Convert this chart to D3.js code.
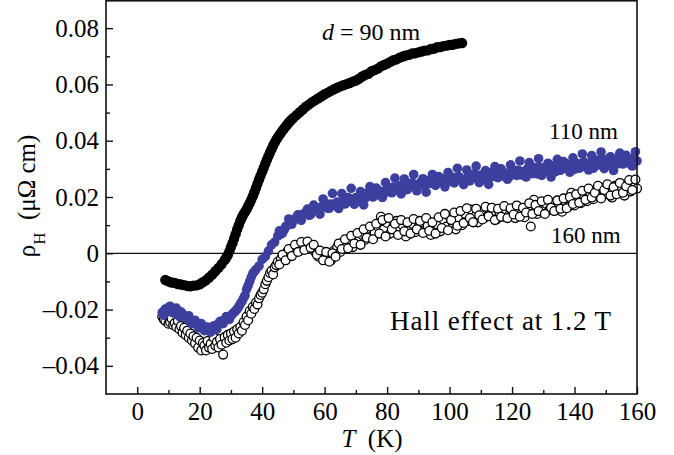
<!DOCTYPE html>
<html>
<head>
<meta charset="utf-8">
<script src="https://cdn.jsdelivr.net/npm/d3@7"></script>
<style>
  body { margin: 0; background: #fff; }
  svg text { font-family: "Liberation Serif", "Times New Roman", serif; fill: #000; }
</style>
</head>
<body>
<main></main>
<script>
// d = 90 nm, filled black
var film90 = [[9,-0.0095],[10,-0.0100],[11,-0.0104],[12,-0.0105],[13,-0.0109],[14,-0.0111],[15,-0.0113],[16,-0.0116],[17,-0.0117],[18,-0.0115],
  [19,-0.0114],[20,-0.0110],[21,-0.0103],[22,-0.0096],[23,-0.0086],[24,-0.0076],[25,-0.0064],[26,-0.0052],[27,-0.0039],[28,-0.0024],
  [29,-0.0006],[30,0.0022],[31,0.0052],[32,0.0085],[33,0.0115],[34,0.0138],[35,0.0156],[36,0.0178],[37,0.0203],[38,0.0232],
  [39,0.0262],[40,0.0290],[41,0.0318],[42,0.0345],[43,0.0370],[44,0.0393],[45,0.0412],[46,0.0428],[47,0.0443],[48,0.0457],
  [49,0.0470],[50,0.0481],[51,0.0491],[52,0.0501],[53,0.0511],[54,0.0521],[55,0.0529],[56,0.0537],[57,0.0544],[58,0.0551],
  [59,0.0558],[60,0.0565],[61,0.0571],[62,0.0577],[63,0.0583],[64,0.0588],[65,0.0593],[66,0.0597],[67,0.0601],[68,0.0605],
  [69,0.0610],[70,0.0614],[71,0.0620],[72,0.0628],[73,0.0634],[74,0.0638],[75,0.0647],[76,0.0651],[77,0.0656],[78,0.0664],
  [79,0.0669],[80,0.0674],[81,0.0680],[82,0.0686],[83,0.0689],[84,0.0695],[85,0.0699],[86,0.0703],[87,0.0705],[88,0.0710],
  [89,0.0711],[90,0.0714],[91,0.0717],[92,0.0720],[93,0.0721],[94,0.0726],[95,0.0727],[96,0.0732],[97,0.0733],[98,0.0736],
  [99,0.0738],[100,0.0740],[101,0.0741],[102,0.0744],[103,0.0746],[104,0.0747],
  [28.5,-0.0016],[29.5,0.0007],[30.5,0.0036],[31.5,0.0068],[32.5,0.0100],[33.5,0.0127],[34.5,0.0147],[35.5,0.0167],[36.5,0.0190],[37.5,0.0217],
  [38.5,0.0247],[39.5,0.0276],[40.5,0.0304],[41.5,0.0332],[42.5,0.0358],[43.5,0.0382],[44.5,0.0403],[45.5,0.0420],[46.5,0.0436],[47.5,0.0450],
  [48.5,0.0464],[49.5,0.0476]];

// 110 nm, filled blue
var film110 = [[8,-0.0210],[8.5,-0.0220],[9,-0.0198],[9.5,-0.0205],[10,-0.0192],[10.5,-0.0188],[11,-0.0205],[11.5,-0.0212],[12,-0.0200],[12.5,-0.0195],
  [13,-0.0215],[13.5,-0.0225],[14,-0.0208],[14.5,-0.0215],[15,-0.0222],[15.5,-0.0230],[16,-0.0230],[16.5,-0.0222],[17,-0.0238],[17.5,-0.0250],
  [18,-0.0245],[18.5,-0.0238],[19,-0.0252],[19.5,-0.0265],[20,-0.0262],[20.5,-0.0250],[21,-0.0258],[21.5,-0.0275],[22,-0.0270],[22.5,-0.0262],
  [23,-0.0275],[23.5,-0.0280],[24,-0.0266],[24.5,-0.0258],[25,-0.0262],[25.5,-0.0270],[26,-0.0250],[26.5,-0.0242],[27,-0.0242],[27.5,-0.0250],
  [28,-0.0238],[28.5,-0.0225],[29,-0.0228],[29.5,-0.0235],[30,-0.0222],[30.5,-0.0215],[31,-0.0210],[31.5,-0.0205],[32,-0.0198],[32.5,-0.0190],
  [33,-0.0180],[33.5,-0.0172],[34,-0.0160],[34.5,-0.0150],[35,-0.0128],[35.5,-0.0115],[36,-0.0100],[36.5,-0.0085],[37,-0.0072],[37.5,-0.0065],
  [38,-0.0058],[39,-0.0045],[40,-0.0022],[41,-0.0012],[42,0.0008],[43,0.0030],[44,0.0040],[45,0.0062],[46,0.0068],[47,0.0082],
  [48,0.0098],[49,0.0110],[50,0.0118],[51,0.0128],[52,0.0125],[53,0.0138],[54,0.0142],[55,0.0135],[56,0.0152],[57,0.0158],
  [58,0.0150],[59,0.0165],[60,0.0168],[61,0.0160],[62,0.0175],[63,0.0170],[64,0.0182],[65,0.0176],[66,0.0188],[67,0.0180],
  [68,0.0195],[69,0.0190],[70,0.0198],[71,0.0192],[72,0.0205],[73,0.0196],[74,0.0210],[75,0.0202],[76,0.0215],[77,0.0208],
  [78,0.0220],[79,0.0212],[80,0.0228],[81,0.0218],[82,0.0235],[83,0.0225],[84,0.0240],[85,0.0228],[86,0.0245],[87,0.0236],
  [88,0.0250],[89,0.0238],[90,0.0245],[91,0.0255],[92,0.0240],[93,0.0258],[94,0.0248],[95,0.0262],[96,0.0250],[97,0.0265],
  [98,0.0252],[99,0.0268],[100,0.0256],[101,0.0270],[102,0.0258],[103,0.0272],[104,0.0262],[105,0.0255],[106,0.0275],[107,0.0265],
  [108,0.0282],[109,0.0268],[110,0.0278],[111,0.0262],[112,0.0285],[113,0.0270],[114,0.0280],[115,0.0272],[116,0.0290],[117,0.0275],
  [118,0.0285],[119,0.0270],[120,0.0292],[121,0.0280],[122,0.0295],[123,0.0278],[124,0.0290],[125,0.0302],[126,0.0285],[127,0.0298],
  [128,0.0282],[129,0.0305],[130,0.0290],[131,0.0310],[132,0.0295],[133,0.0305],[134,0.0290],[135,0.0315],[136,0.0300],[137,0.0320],
  [138,0.0305],[139,0.0312],[140,0.0298],[141,0.0318],[142,0.0305],[143,0.0325],[144,0.0310],[145,0.0320],[146,0.0302],[147,0.0330],
  [148,0.0315],[149,0.0335],[150,0.0320],[151,0.0328],[152,0.0310],[153,0.0332],[154,0.0318],[155,0.0338],[156,0.0322],[157,0.0330],
  [158,0.0315],[159,0.0340],[160,0.0328],
  [45.5,0.0080],[46.5,0.0072],[47.5,0.0095],[48.5,0.0122],[49.5,0.0103],[50.5,0.0121],[51.5,0.0137],[52.5,0.0117],[53.5,0.0142],[54.5,0.0157],
  [55.5,0.0137],[56.5,0.0171],[57.5,0.0155],[58.5,0.0139],[59.5,0.0193],[60.5,0.0176],[61.5,0.0160],[62.5,0.0213],[63.5,0.0176],[64.5,0.0159],
  [65.5,0.0212],[66.5,0.0175],[67.5,0.0198],[68.5,0.0231],[69.5,0.0174],[70.5,0.0196],[71.5,0.0219],[72.5,0.0172],[73.5,0.0214],[74.5,0.0237],
  [75.5,0.0200],[76.5,0.0232],[77.5,0.0215],[78.5,0.0198],[79.5,0.0251],[80.5,0.0233],[81.5,0.0215],[82.5,0.0267],[83.5,0.0229],[84.5,0.0211],
  [85.5,0.0264],[86.5,0.0226],[87.5,0.0248],[88.5,0.0280],[89.5,0.0222],[90.5,0.0244],[91.5,0.0265],[92.5,0.0217],[93.5,0.0258],[94.5,0.0280],
  [95.5,0.0241],[96.5,0.0273],[97.5,0.0254],[98.5,0.0236],[99.5,0.0287],[100.5,0.0269],[101.5,0.0250],[102.5,0.0302],[103.5,0.0263],[104.5,0.0244],
  [105.5,0.0296],[106.5,0.0257],[107.5,0.0279],[108.5,0.0310],[109.5,0.0251],[110.5,0.0273],[111.5,0.0294],[112.5,0.0245],[113.5,0.0287],[114.5,0.0308],
  [115.5,0.0269],[116.5,0.0300],[117.5,0.0282],[118.5,0.0263],[119.5,0.0314],[120.5,0.0296],[121.5,0.0277],[122.5,0.0328],[123.5,0.0290],[124.5,0.0271],
  [125.5,0.0322],[126.5,0.0283],[127.5,0.0305],[128.5,0.0336],[129.5,0.0277],[130.5,0.0299],[131.5,0.0320],[132.5,0.0271],[133.5,0.0312],[134.5,0.0334],
  [135.5,0.0295],[136.5,0.0326],[137.5,0.0307],[138.5,0.0288],[139.5,0.0339],[140.5,0.0321],[141.5,0.0302],[142.5,0.0353],[143.5,0.0314],[144.5,0.0296],
  [145.5,0.0347],[146.5,0.0308],[147.5,0.0329],[148.5,0.0360],[149.5,0.0301],[150.5,0.0322],[151.5,0.0343],[152.5,0.0294],[153.5,0.0335],[154.5,0.0356],
  [155.5,0.0317],[156.5,0.0348],[157.5,0.0329],[158.5,0.0310],[159.5,0.0361]];

// 160 nm, open circles
var film160 = [[8,-0.0225],[8.5,-0.0235],[9,-0.0240],[9.5,-0.0222],[10,-0.0250],[10.5,-0.0245],[11,-0.0232],[11.5,-0.0255],[12,-0.0248],[12.5,-0.0262],
  [13,-0.0240],[13.5,-0.0270],[14,-0.0258],[14.5,-0.0282],[15,-0.0265],[15.5,-0.0290],[16,-0.0275],[16.5,-0.0300],[17,-0.0285],[17.5,-0.0310],
  [18,-0.0295],[18.5,-0.0320],[19,-0.0300],[19.5,-0.0335],[20,-0.0310],[20.5,-0.0345],[21,-0.0318],[21.5,-0.0328],[22,-0.0345],[22.5,-0.0312],
  [23,-0.0335],[23.5,-0.0322],[24,-0.0340],[24.5,-0.0300],[25,-0.0328],[25.5,-0.0315],[26,-0.0335],[26.5,-0.0305],[27,-0.0325],[27.5,-0.0360],
  [28,-0.0298],[28.5,-0.0318],[29,-0.0290],[29.5,-0.0310],[30,-0.0285],[30.5,-0.0305],[31,-0.0278],[31.5,-0.0300],[32,-0.0270],[32.5,-0.0285],
  [33,-0.0262],[33.5,-0.0275],[34,-0.0245],[34.5,-0.0255],[35,-0.0225],[35.5,-0.0238],[36,-0.0205],[36.5,-0.0215],[37,-0.0190],[37.5,-0.0198],
  [38,-0.0175],[38.5,-0.0182],[39,-0.0160],[39.5,-0.0148],[40,-0.0140],[40.5,-0.0128],[41,-0.0110],[41.5,-0.0098],[42,-0.0085],[42.5,-0.0070],
  [43,-0.0062],[43.5,-0.0075],[44,-0.0050],[44.5,-0.0042],[45,-0.0030],[46,-0.0020],[47,-0.0008],[48,0.0005],[49,-0.0005],[50,0.0012],
  [51,0.0022],[52,0.0008],[53,0.0025],[54,0.0035],[55,0.0030],[56,0.0018],[57,0.0005],[58,-0.0012],[59,0.0002],[60,-0.0020],
  [61,-0.0008],[62,-0.0025],[63,0.0010],[64,0.0022],[65,0.0005],[66,0.0040],[67,0.0030],[68,0.0048],[69,0.0022],[70,0.0058],
  [71,0.0045],[72,0.0065],[73,0.0048],[74,0.0080],[75,0.0060],[76,0.0075],[77,0.0095],[78,0.0130],[79,0.0085],[80,0.0108],
  [81,0.0070],[82,0.0095],[83,0.0115],[84,0.0082],[85,0.0100],[86,0.0060],[87,0.0090],[88,0.0105],[89,0.0075],[90,0.0092],
  [91,0.0110],[92,0.0080],[93,0.0098],[94,0.0065],[95,0.0088],[96,0.0102],[97,0.0078],[98,0.0120],[99,0.0095],[100,0.0130],
  [101,0.0108],[102,0.0085],[103,0.0125],[104,0.0100],[105,0.0140],[106,0.0115],[107,0.0155],[108,0.0130],[109,0.0110],[110,0.0148],
  [111,0.0125],[112,0.0160],[113,0.0135],[114,0.0150],[115,0.0120],[116,0.0145],[117,0.0130],[118,0.0155],[119,0.0135],[120,0.0148],
  [121,0.0125],[122,0.0155],[123,0.0140],[124,0.0128],[125,0.0160],[126,0.0095],[127,0.0190],[128,0.0140],[129,0.0165],[130,0.0150],
  [131,0.0175],[132,0.0155],[133,0.0180],[134,0.0160],[135,0.0172],[136,0.0148],[137,0.0185],[138,0.0165],[139,0.0215],[140,0.0170],
  [141,0.0195],[142,0.0178],[143,0.0205],[144,0.0185],[145,0.0215],[146,0.0192],[147,0.0228],[148,0.0200],[149,0.0232],[150,0.0210],
  [151,0.0225],[152,0.0198],[153,0.0240],[154,0.0215],[155,0.0235],[156,0.0205],[157,0.0245],[158,0.0220],[159,0.0255],[160,0.0230],
  [45.5,-0.0040],[46.5,-0.0005],[47.5,-0.0025],[48.5,0.0015],[49.5,-0.0010],[50.5,0.0030],[51.5,0.0005],[52.5,0.0040],[53.5,0.0012],[54.5,0.0042],
  [55.5,0.0020],[56.5,0.0030],[57.5,-0.0005],[58.5,0.0010],[59.5,-0.0025],[60.5,0.0005],[61.5,-0.0030],[62.5,0.0000],[63.5,-0.0012],[64.5,0.0035],
  [65.5,0.0015],[66.5,0.0050],[67.5,0.0018],[68.5,0.0062],[69.5,0.0035],[70.5,0.0072],[71.5,0.0030],[72.5,0.0085],[73.5,0.0055],[74.5,0.0095],
  [75.5,0.0050],[76.5,0.0105],[77.5,0.0070],[78.5,0.0118],[79.5,0.0060],[80.5,0.0125],[81.5,0.0085],[82.5,0.0105],[83.5,0.0065],[84.5,0.0118],
  [85.5,0.0078],[86.5,0.0110],[87.5,0.0070],[88.5,0.0122],[89.5,0.0085],[90.5,0.0115],[91.5,0.0072],[92.5,0.0125],[93.5,0.0080],[94.5,0.0110],
  [95.5,0.0070],[96.5,0.0128],[97.5,0.0090],[98.5,0.0140],[99.5,0.0082],[100.5,0.0118],[101.5,0.0145],[102.5,0.0098],[103.5,0.0150],[104.5,0.0108],
  [105.5,0.0160],[106.5,0.0125],[107.5,0.0110],[108.5,0.0158],[109.5,0.0135],[110.5,0.0120],[111.5,0.0165],[112.5,0.0132],[113.5,0.0162],[114.5,0.0118],
  [115.5,0.0158],[116.5,0.0130],[117.5,0.0168],[118.5,0.0125],[119.5,0.0160],[120.5,0.0138],[121.5,0.0170],[122.5,0.0130],[123.5,0.0162],[124.5,0.0145],
  [125.5,0.0178],[126.5,0.0140],[127.5,0.0172],[128.5,0.0150],[129.5,0.0185],[130.5,0.0140],[131.5,0.0190],[132.5,0.0162],[133.5,0.0150],[134.5,0.0188],
  [135.5,0.0158],[136.5,0.0195],[137.5,0.0160],[138.5,0.0200],[139.5,0.0175],[140.5,0.0210],[141.5,0.0180],[142.5,0.0222],[143.5,0.0190],[144.5,0.0230],
  [145.5,0.0198],[146.5,0.0215],[147.5,0.0240],[148.5,0.0195],[149.5,0.0225],[150.5,0.0245],[151.5,0.0205],[152.5,0.0235],[153.5,0.0210],[154.5,0.0250],
  [155.5,0.0215],[156.5,0.0238],[157.5,0.0260],[158.5,0.0225],[159.5,0.0262]];

var xTicks = [0, 20, 40, 60, 80, 100, 120, 140, 160];
var xMinor = [10, 30, 50, 70, 90, 110, 130, 150];
var yTicks = [-0.04, -0.02, 0, 0.02, 0.04, 0.06, 0.08];
var yMinor = [-0.03, -0.01, 0.01, 0.03, 0.05, 0.07];

(function(){

  var svg = d3.select("main").append("svg").attr("width", 674).attr("height", 455);

  var mLeft = 106, mRight = 637, mTop = 0, mBottom = 394;

  var x = d3.scaleLinear().domain([-10, 160]).range([mLeft, mRight]);
  var y = d3.scaleLinear().domain([-0.05, 0.09]).range([mBottom, mTop]);

  function yfmt(v) {
    if (Math.abs(v) < 1e-9) return "0";
    var s = Math.abs(v).toFixed(2);
    return v < 0 ? "\u2013" + s : s;
  }

  // axes, ticks pointing in
  svg.append("g").attr("transform", "translate(0," + mBottom + ")")
    .call(d3.axisBottom(x).tickValues(xTicks).tickSize(-7).tickPadding(8).tickFormat(d3.format("d")));
  svg.append("g").attr("transform", "translate(0," + mBottom + ")")
    .call(d3.axisBottom(x).tickValues(xMinor).tickSize(-4).tickFormat(""));
  svg.append("g").attr("transform", "translate(" + mLeft + ",0)")
    .call(d3.axisLeft(y).tickValues(yTicks).tickSize(-7).tickPadding(7).tickFormat(yfmt));
  svg.append("g").attr("transform", "translate(" + mLeft + ",0)")
    .call(d3.axisLeft(y).tickValues(yMinor).tickSize(-4).tickFormat(""));

  svg.selectAll(".domain").remove();
  svg.selectAll(".tick line").attr("stroke", "#111").attr("stroke-width", 1.4);
  svg.selectAll(".tick text").style("font-size", "25px");

  // zero line
  svg.append("line")
    .attr("x1", mLeft).attr("x2", mRight)
    .attr("y1", y(0)).attr("y2", y(0))
    .attr("stroke", "#111").attr("stroke-width", 1.3);

  // data
  svg.append("g").selectAll("circle").data(film160).enter().append("circle")
    .attr("cx", d => x(d[0])).attr("cy", d => y(d[1])).attr("r", 4.4)
    .attr("fill", "#fff").attr("stroke", "#000").attr("stroke-width", 1.3);

  svg.append("g").selectAll("circle").data(film110).enter().append("circle")
    .attr("cx", d => x(d[0])).attr("cy", d => y(d[1])).attr("r", 4.8)
    .attr("fill", "#3d3f9f");

  svg.append("g").selectAll("circle").data(film90).enter().append("circle")
    .attr("cx", d => x(d[0])).attr("cy", d => y(d[1])).attr("r", 5.2)
    .attr("fill", "#000");

  // frame
  svg.append("rect")
    .attr("x", mLeft).attr("y", mTop + 0.8)
    .attr("width", mRight - mLeft).attr("height", mBottom - mTop - 0.8)
    .attr("fill", "none").attr("stroke", "#111").attr("stroke-width", 1.6);

  // labels
  var dlab = svg.append("text").attr("x", 322).attr("y", 40).style("font-size", "24px");
  dlab.append("tspan").style("font-style", "italic").text("d");
  dlab.append("tspan").text(" = 90 nm");

  svg.append("text").attr("x", 549).attr("y", 139).style("font-size", "23px").text("110 nm");
  svg.append("text").attr("x", 551).attr("y", 243).style("font-size", "23px").text("160 nm");
  svg.append("text").attr("x", 390).attr("y", 330).style("font-size", "27px")
    .attr("textLength", 221).attr("lengthAdjust", "spacing").text("Hall effect at 1.2 T");

  var xl = svg.append("text").attr("x", 372).attr("y", 447).attr("text-anchor", "middle").style("font-size", "25px");
  xl.append("tspan").style("font-style", "italic").text("T");
  xl.append("tspan").text("\u00a0\u00a0(K)");

  var yl = svg.append("text").attr("transform", "translate(35,196) rotate(-90)")
    .attr("text-anchor", "middle").style("font-size", "25px");
  yl.append("tspan").text("\u03c1");
  yl.append("tspan").attr("baseline-shift", "sub").style("font-size", "17px").text("H");
  yl.append("tspan").text("\u00a0\u00a0(\u03bc\u03a9 cm)");

})();
</script>
</body>
</html>
